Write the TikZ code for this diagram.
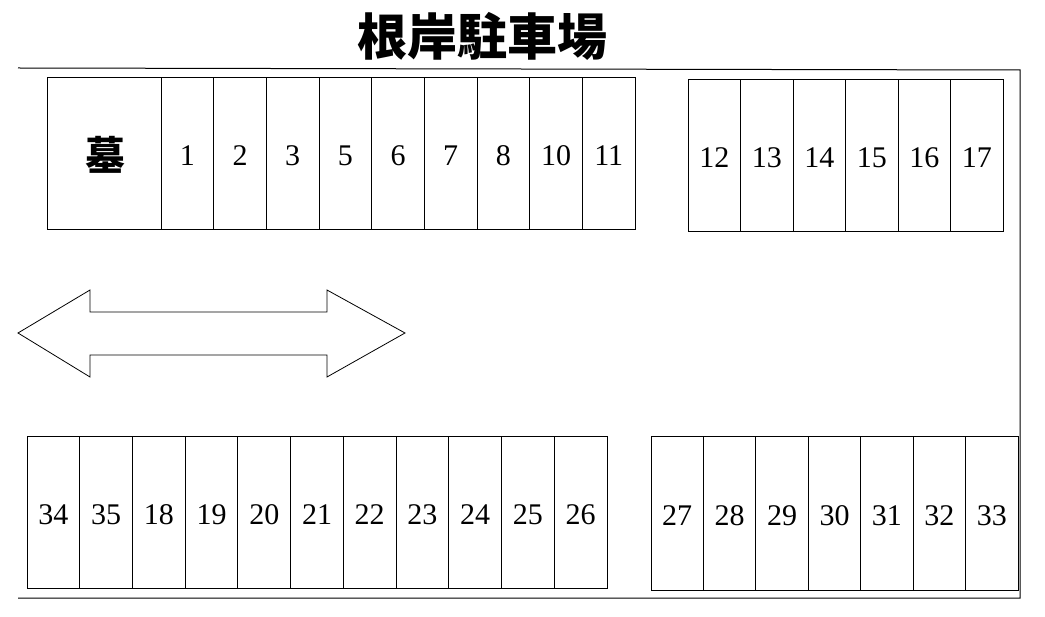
\documentclass[tikz,border=0pt]{standalone}
\usepackage{fontspec}
\setmainfont{Liberation Serif}
\newfontfamily\cjkb[BoldFont={Noto Sans CJK JP Black}]{Noto Sans CJK JP}
\begin{document}
\begin{tikzpicture}[x=1pt,y=-1pt,line width=1pt,
  num/.style={font=\fontsize{30}{30}\selectfont,inner sep=0pt}]
\useasboundingbox (0,0) rectangle (1045,617);
\node[font=\cjkb\bfseries\fontsize{50}{50}\selectfont,inner sep=0pt] (title) at (482,36) {根岸駐車場};
% outline
\draw (18,68) -- (1020,70) -- (1020,598) -- (18,598);
% top-left
\draw (47,78) rectangle (635,230);
\draw (161,78) -- (161,230);
\node[font=\cjkb\bfseries\fontsize{40}{40}\selectfont,inner sep=0pt] (grave) at (105,155) {墓};
\foreach \t [count=\i] in {1,2,3,5,6,7,8,10,11}{
  \pgfmathsetmacro\xa{161+(\i-1)*52.67}
  \pgfmathsetmacro\xb{161+\i*52.67}
  \draw (\xa,78) -- (\xa,230);
  \node[num] (s\t) at ({(\xa+\xb)/2},156) {\t};
}
% top-right
\draw (688,80) rectangle (1003,232);
\foreach \t [count=\i] in {12,...,17}{
  \pgfmathsetmacro\xa{688+(\i-1)*52.5}
  \pgfmathsetmacro\xb{688+\i*52.5}
  \draw (\xa,80) -- (\xa,232);
  \node[num] (s\t) at ({(\xa+\xb)/2},158) {\t};
}
% bottom-left
\draw (27,437) rectangle (607,588);
\foreach \t [count=\i] in {34,35,18,19,20,21,22,23,24,25,26}{
  \pgfmathsetmacro\xa{27+(\i-1)*52.73}
  \pgfmathsetmacro\xb{27+\i*52.73}
  \draw (\xa,437) -- (\xa,588);
  \node[num] (s\t) at ({(\xa+\xb)/2},515) {\t};
}
% bottom-right
\draw (651,437) rectangle (1018,590);
\foreach \t [count=\i] in {27,...,33}{
  \pgfmathsetmacro\xa{651+(\i-1)*52.43}
  \pgfmathsetmacro\xb{651+\i*52.43}
  \draw (\xa,437) -- (\xa,590);
  \node[num] (s\t) at ({(\xa+\xb)/2},516) {\t};
}
% double arrow
\draw[line width=0.8pt] (18,333) -- (90,290) -- (90,312) -- (327,312) -- (327,290) -- (405,333)
  -- (327,377) -- (327,355) -- (90,355) -- (90,377) -- cycle;
\end{tikzpicture}
\end{document}
